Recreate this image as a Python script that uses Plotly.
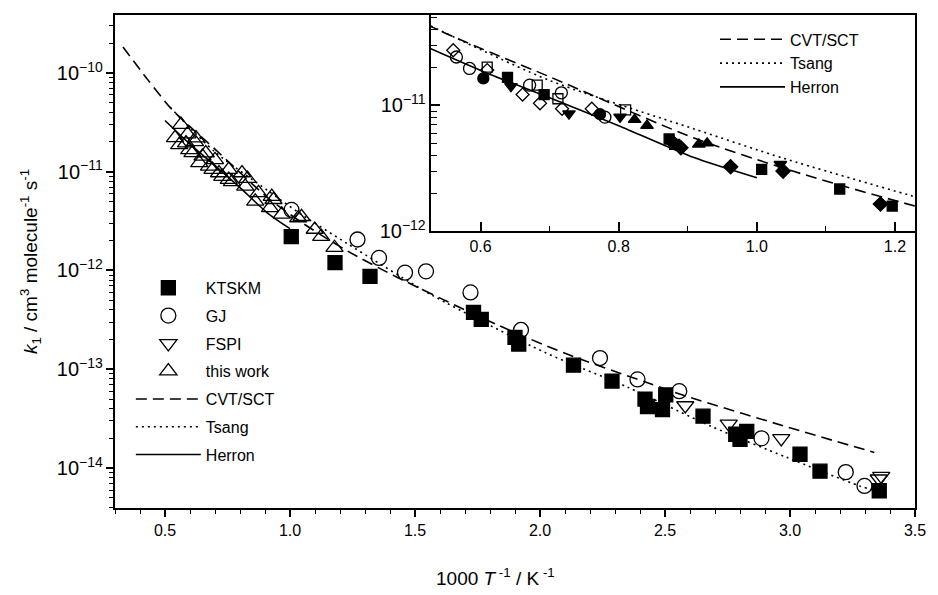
import plotly.graph_objects as go

FONT = "Liberation Sans, Arial, Helvetica, sans-serif"

# ---------------- main panel data (x = 1000/T in K^-1, k in cm3 molecule-1 s-1) -------------
ktskm_x = [1.005, 1.18, 1.32, 1.734, 1.765, 1.90, 1.915, 2.134, 2.288, 2.42, 2.43, 2.49, 2.503,
           2.652, 2.783, 2.80, 2.827, 3.04, 3.12, 3.357]
ktskm_k = [2.2e-12, 1.2e-12, 8.7e-13, 3.77e-13, 3.2e-13, 2.1e-13, 1.8e-13, 1.1e-13, 7.6e-14, 5.0e-14,
           4.2e-14, 3.9e-14, 5.5e-14, 3.35e-14, 2.2e-14, 1.95e-14, 2.35e-14, 1.38e-14, 9.3e-15, 5.9e-15]

gj_x = [1.006, 1.27, 1.356, 1.46, 1.544, 1.722, 1.924, 2.24, 2.39, 2.557, 2.886, 3.223, 3.298]
gj_k = [4.1e-12, 2.06e-12, 1.34e-12, 9.5e-13, 9.8e-13, 6.0e-13, 2.5e-13, 1.3e-13, 7.9e-14, 6.0e-14,
        2.0e-14, 9.1e-15, 6.6e-15]

fspi_x = [2.581, 2.755, 2.965, 3.355, 3.365]
fspi_k = [4.3e-14, 2.8e-14, 2.0e-14, 7.8e-15, 8.3e-15]

tw_x = [0.54, 0.564, 0.557, 0.584, 0.59, 0.597, 0.61, 0.62, 0.624, 0.637, 0.65, 0.663, 0.676, 0.69,
        0.70, 0.716, 0.729, 0.755, 0.755, 0.768, 0.808, 0.821, 0.83, 0.861, 0.874, 0.92, 0.927, 0.934,
        0.967, 1.033, 1.046, 1.099, 1.125, 1.178]
tw_k = [2.2e-11, 3.0e-11, 1.87e-11, 1.95e-11, 2.4e-11, 1.66e-11, 1.55e-11, 2.0e-11, 2.19e-11, 1.23e-11,
        1.43e-11, 1.54e-11, 1.13e-11, 1.05e-11, 1.32e-11, 9.7e-12, 8.9e-12, 1.05e-11, 8.3e-12, 7.9e-12,
        9.7e-12, 7.1e-12, 8.5e-12, 5.0e-12, 6.1e-12, 4.3e-12, 5.6e-12, 5.2e-12, 3.7e-12, 3.4e-12,
        3.5e-12, 2.6e-12, 2.2e-12, 1.7e-12]

# ---------------- model curves ----------------
cvt_x = [0.332, 0.43, 0.53, 0.7, 0.909, 1.052, 1.229, 1.43, 1.825, 2.10, 2.43, 2.59, 3.013, 3.337]
cvt_k = [1.83e-10, 8.6e-11, 4.2e-11, 1.69e-11, 5.5e-12, 3.0e-12, 1.58e-12, 8.5e-13, 2.85e-13, 1.45e-13,
         7.3e-14, 5.3e-14, 2.5e-14, 1.44e-14]

tsang_x = [0.52, 0.7, 0.909, 1.038, 1.225, 1.575, 2.02, 2.35, 2.684, 2.985, 3.278, 3.354]
tsang_k = [4.5e-11, 1.58e-11, 6.5e-12, 3.8e-12, 1.9e-12, 5.5e-13, 1.48e-13, 6.6e-14, 2.65e-14,
           1.29e-14, 6.6e-15, 5.8e-15]

herron_x = [0.5, 0.6, 0.7, 0.8, 0.909, 1.0]
herron_k = [3.3e-11, 1.9e-11, 1.15e-11, 6.9e-12, 3.84e-12, 2.65e-12]

# ---------------- inset data ----------------
od_x = [0.5604, 0.6096, 0.6608, 0.686, 0.718, 0.761]
od_k = [2.75e-11, 1.91e-11, 1.22e-11, 1.04e-11, 9.4e-12, 9.4e-12]
oc_x = [0.565, 0.584, 0.671, 0.717, 0.780]
oc_k = [2.43e-11, 1.97e-11, 1.45e-11, 1.26e-11, 8.06e-12]
osq_x = [0.6096, 0.682, 0.712, 0.81]
osq_k = [2.02e-11, 1.45e-11, 1.13e-11, 9.2e-12]
fc_x = [0.604, 0.773]
fc_k = [1.64e-11, 8.5e-12]
fsq_x = [0.639, 0.692, 0.873, 0.881, 1.007, 1.12, 1.196]
fsq_k = [1.67e-11, 1.22e-11, 5.4e-12, 4.9e-12, 3.1e-12, 2.16e-12, 1.58e-12]
fd_x = [0.878, 0.890, 0.962, 1.038, 1.179]
fd_k = [5.1e-12, 4.6e-12, 3.25e-12, 3.0e-12, 1.64e-12]
fdt_x = [0.644, 0.728, 0.802, 1.034]
fdt_k = [1.42e-11, 8.6e-12, 8.1e-12, 3.4e-12]
fut_x = [0.823, 0.841, 0.916, 0.928]
fut_k = [7.7e-12, 6.9e-12, 4.9e-12, 5.0e-12]

fig = go.Figure()

def marker_trace(x, y, name, symbol, size, xa="x", ya="y", show=True, legend="legend"):
    fig.add_trace(go.Scatter(
        x=x, y=y, mode="markers", name=name, showlegend=show, legend=legend,
        legendgroup=name, xaxis=xa, yaxis=ya,
        marker=dict(symbol=symbol, size=size, color="black",
                    line=dict(color="black", width=1.3))))

def line_trace(x, y, name, dash, xa="x", ya="y", legend="legend", width=1.6):
    fig.add_trace(go.Scatter(
        x=x, y=y, mode="lines", name=name, legend=legend, legendgroup=name + legend,
        xaxis=xa, yaxis=ya,
        line=dict(color="black", width=width, dash=dash, shape="spline", smoothing=0.7)))

# main panel
marker_trace(ktskm_x, ktskm_k, "KTSKM", "square", 14)
marker_trace(gj_x, gj_k, "GJ", "circle-open", 15)
marker_trace(fspi_x, fspi_k, "FSPI", "triangle-down-open", 15)
marker_trace(tw_x, tw_k, "this work", "triangle-up-open", 15)
line_trace(cvt_x, cvt_k, "CVT/SCT", "11px,6px")
line_trace(tsang_x, tsang_k, "Tsang", "2px,4px")
line_trace(herron_x, herron_k, "Herron", "solid")

# inset
line_trace(cvt_x, cvt_k, "CVT/SCT", "11px,6px", "x2", "y2", "legend2")
line_trace(tsang_x, tsang_k, "Tsang", "2px,4px", "x2", "y2", "legend2")
line_trace(herron_x, herron_k, "Herron", "solid", "x2", "y2", "legend2")
marker_trace(od_x, od_k, "inset open diamond", "diamond-open", 10, "x2", "y2", False)
marker_trace(oc_x, oc_k, "inset open circle", "circle-open", 12, "x2", "y2", False)
marker_trace(osq_x, osq_k, "inset open square", "square-open", 10, "x2", "y2", False)
marker_trace(fc_x, fc_k, "inset filled circle", "circle", 11, "x2", "y2", False)
marker_trace(fsq_x, fsq_k, "inset filled square", "square", 10, "x2", "y2", False)
marker_trace(fd_x, fd_k, "inset filled diamond", "diamond", 11, "x2", "y2", False)
marker_trace(fdt_x, fdt_k, "inset filled down triangle", "triangle-down", 11, "x2", "y2", False)
marker_trace(fut_x, fut_k, "inset filled up triangle", "triangle-up", 11, "x2", "y2", False)

axis_common = dict(showline=True, linecolor="black", linewidth=2, showgrid=False, zeroline=False,
                   tickcolor="black", tickfont=dict(family=FONT, size=16, color="black"))

fig.update_layout(
    width=938, height=595,
    margin=dict(l=115, r=15, t=15, b=87),
    paper_bgcolor="white", plot_bgcolor="white",
    font=dict(family=FONT, color="black"),
    xaxis=dict(**axis_common, range=[0.3, 3.5], tick0=0.5, dtick=0.5, tickformat=".1f",
               ticks="outside", ticklen=7, tickwidth=1.5, mirror=True,
               minor=dict(dtick=0.1, tick0=0.0, ticks="outside", ticklen=4, tickwidth=1.3,
                          tickcolor="black")),
    yaxis=dict(**axis_common, type="log", range=[-14.404, -9.414], dtick=1,
               exponentformat="power", ticks="outside", ticklen=7, tickwidth=1.5, mirror=True,
               minor=dict(ticks="outside", ticklen=4, tickwidth=1.2, tickcolor="black"),
               title=dict(text="<i>k</i><sub>1</sub> / cm<sup>3</sup> molecule<sup>-1</sup> s<sup>-1</sup>",
                          font=dict(family=FONT, size=19), standoff=14)),
    xaxis2=dict(**axis_common, domain=[0.3948, 1.0], anchor="y2", range=[0.528, 1.229],
                tick0=0.6, dtick=0.2, tickformat=".1f", ticks="inside", ticklen=9, tickwidth=1.5,
                minor=dict(dtick=0.1, tick0=0.0, ticks="inside", ticklen=5, tickwidth=1.3,
                           tickcolor="black")),
    yaxis2=dict(**axis_common, domain=[0.5619, 1.0], anchor="x2", type="log", range=[-12, -10.28],
                dtick=1, exponentformat="power", ticks="inside", ticklen=9, tickwidth=1.5,
                minor=dict(ticks="inside", ticklen=6, tickwidth=1.2, tickcolor="black")),
    legend=dict(x=0.0198, y=0.481, xanchor="left", yanchor="top", bgcolor="rgba(0,0,0,0)",
                font=dict(family=FONT, size=16), itemwidth=65, tracegroupgap=4,
                traceorder="grouped"),
    legend2=dict(x=0.75, y=0.985, xanchor="left", yanchor="top", bgcolor="rgba(0,0,0,0)",
                 font=dict(family=FONT, size=16), itemwidth=65, tracegroupgap=0,
                 traceorder="grouped"),
    annotations=[dict(text="1000 <i>T</i><sup> -1</sup> / K<sup> -1</sup>", xref="paper", yref="paper",
                      x=0.475, y=-0.14, xanchor="center", yanchor="middle", showarrow=False,
                      font=dict(family=FONT, size=19))],
)

fig.write_html("out.html")
